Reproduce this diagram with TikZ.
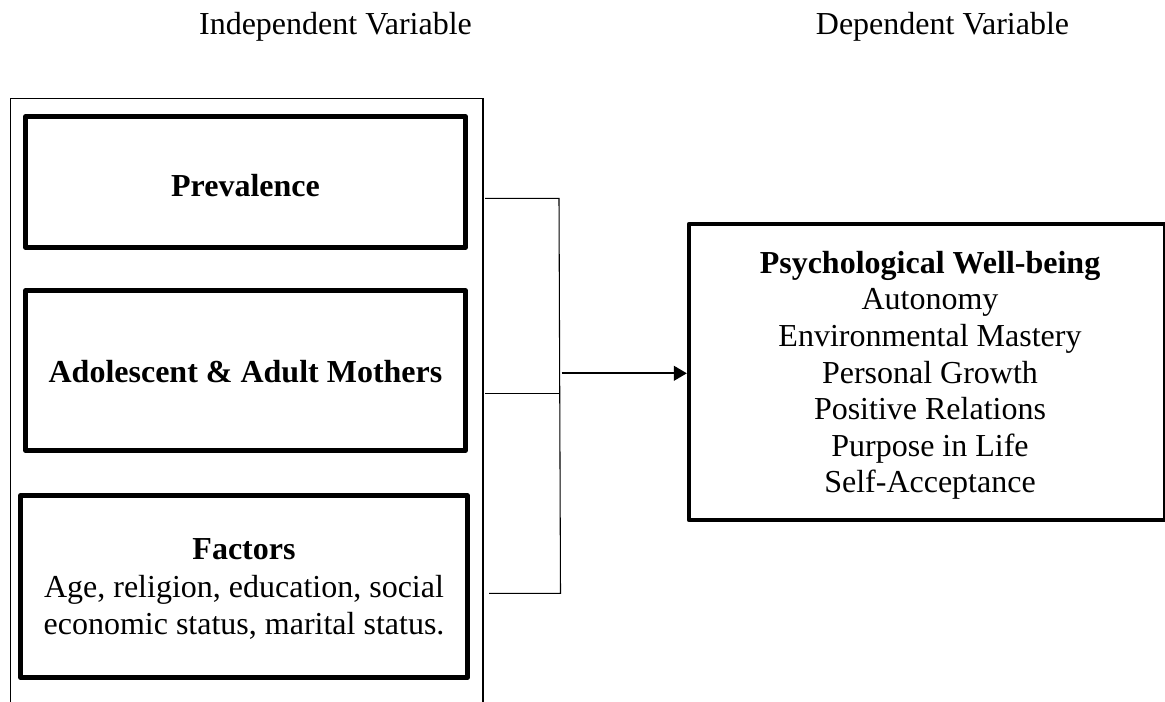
\documentclass[tikz,border=0pt]{standalone}
\usepackage{fontspec}
\setmainfont{Liberation Serif}
\usetikzlibrary{arrows.meta}
\begin{document}
\begin{tikzpicture}[x=0.75pt,y=-0.75pt,
  every node/.style={font=\fontsize{24}{27.45}\selectfont, inner sep=0pt, outer sep=0pt},
  thickbox/.style={draw, line width=3.4pt, line join=round},
  thinbox/.style={draw, line width=1.1pt},
  conn/.style={draw, line width=0.8pt},
  arrowline/.style={draw, line width=1.5pt, -{Triangle[length=9.75pt,width=11pt]}, shorten >=1.6pt}]
\clip (0,0) rectangle (1165,702);
% headers
\node[anchor=base] (hind) at (335.5,35) {Independent Variable};
\node[anchor=base] (hdep) at (942.5,35) {Dependent Variable};
% outer container
\node[thinbox, minimum width=354.2pt, minimum height=466pt] (outer) at (246.85,409.35) {};
% inner boxes
\node[thickbox, minimum width=330pt, minimum height=98.25pt] (prev) at (245.5,182) {};
\node[thickbox, minimum width=330pt, minimum height=120pt] (adol) at (245.5,370.5) {};
\node[thickbox, minimum width=335.25pt, minimum height=136.5pt] (fact) at (244,586.5) {};
% right box
\node[thickbox, minimum width=357pt, minimum height=222pt] (rbox) at (927,372) {};
% texts
\node[anchor=base] (tprev) at (245.5,197) {\textbf{Prevalence}};
\node[anchor=base] (tadol) at (245.5,383) {\textbf{Adolescent \& Adult Mothers}};
\node[align=center, font=\fontsize{24}{28.1}\selectfont] (tfact) at (244,589.3)
  {\textbf{Factors}\\Age, religion, education, social\\economic status, marital status.};
\node[align=center] (trbox) at (930,375.5)
  {\textbf{Psychological Well-being}\\Autonomy\\Environmental Mastery\\Personal Growth\\Positive Relations\\Purpose in Life\\Self-Acceptance};
% connectors
\coordinate (a1) at (485,198.3);
\coordinate (j1) at (559,198.3);
\coordinate (a2) at (485,393.3);
\coordinate (j2) at (559,393.3);
\coordinate (a3) at (489,593.3);
\coordinate (j3) at (560.5,593.3);
\coordinate (jm) at (561.5,373.3);
\draw[conn] (a1) -- (j1) -- (j3) -- (a3);
\draw[conn] (a2) -- (j2);
\draw[arrowline] (jm) -- (rbox.west |- jm);
\end{tikzpicture}
\end{document}
